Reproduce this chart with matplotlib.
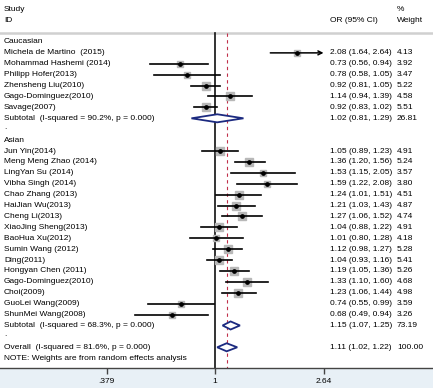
import numpy as np
import matplotlib
matplotlib.use('Agg')
import matplotlib.pyplot as plt
from matplotlib.patches import Polygon
import matplotlib.transforms as mtransforms

plt.rcParams['font.family'] = ['Liberation Sans', 'DejaVu Sans']

# Caucasian studies
cau_names = ['Michela de Martino  (2015)', 'Mohammad Hashemi (2014)', 'Philipp Hofer(2013)',
             'Zhensheng Liu(2010)', 'Gago-Dominguez(2010)', 'Savage(2007)']
cau_or = [2.08, 0.73, 0.78, 0.92, 1.14, 0.92]
cau_lo = [1.64, 0.56, 0.58, 0.81, 0.94, 0.83]
cau_hi = [2.64, 0.94, 1.05, 1.05, 1.39, 1.02]
cau_w = [4.13, 3.92, 3.47, 5.22, 4.58, 5.51]
cau_sub = (1.02, 0.81, 1.29, 26.81)
cau_sub_label = 'Subtotal  (I-squared = 90.2%, p = 0.000)'

# Asian studies
asi_names = ['Jun Yin(2014)', 'Meng Meng Zhao (2014)', 'LingYan Su (2014)', 'Vibha Singh (2014)',
             'Chao Zhang (2013)', 'HaiJian Wu(2013)', 'Cheng Li(2013)', 'XiaoJing Sheng(2013)',
             'BaoHua Xu(2012)', 'Sumin Wang (2012)', 'Ding(2011)', 'Hongyan Chen (2011)',
             'Gago-Dominguez(2010)', 'Choi(2009)', 'GuoLei Wang(2009)', 'ShunMei Wang(2008)']
asi_or = [1.05, 1.36, 1.53, 1.59, 1.24, 1.21, 1.27, 1.04, 1.01, 1.12, 1.04, 1.19, 1.33, 1.23, 0.74, 0.68]
asi_lo = [0.89, 1.20, 1.15, 1.22, 1.01, 1.03, 1.06, 0.88, 0.80, 0.98, 0.93, 1.05, 1.10, 1.06, 0.55, 0.49]
asi_hi = [1.23, 1.56, 2.05, 2.08, 1.51, 1.43, 1.52, 1.22, 1.28, 1.27, 1.16, 1.36, 1.60, 1.44, 0.99, 0.94]
asi_w = [4.91, 5.24, 3.57, 3.80, 4.51, 4.87, 4.74, 4.91, 4.18, 5.28, 5.41, 5.26, 4.68, 4.98, 3.59, 3.26]
asi_sub = (1.15, 1.07, 1.25, 73.19)
asi_sub_label = 'Subtotal  (I-squared = 68.3%, p = 0.000)'

overall = (1.11, 1.02, 1.22, 100.00)
overall_label = 'Overall  (I-squared = 81.6%, p = 0.000)'
note = 'NOTE: Weights are from random effects analysis'

xticks = [0.379, 1, 2.64]
xticklabels = ['.379', '1', '2.64']

FS = 6
navy = '#1c2a80'

fig = plt.figure(figsize=(4.33, 3.88), dpi=100)
fig.patch.set_facecolor('#e8f0f6')
ax = fig.add_axes([0, 20 / 388, 1, 368 / 388])
ax.set_facecolor('white')

# x mapping: 1 at 215px, 111.8 px per ln unit
ax.set_xscale('log')
ax.set_xlim(np.exp(-215 / 111.8), np.exp((433 - 215) / 111.8))
ax.set_ylim(29.9, -3.85)

tr = mtransforms.blended_transform_factory(ax.transAxes, ax.transData)
xl, xor_, xw = 4 / 433, 330 / 433, 397 / 433

# header
ax.text(xl, -2.94, 'Study', transform=tr, fontsize=FS, va='center')
ax.text(xl, -1.93, 'ID', transform=tr, fontsize=FS, va='center')
ax.text(xor_, -1.93, 'OR (95% CI)', transform=tr, fontsize=FS, va='center')
ax.text(xw, -2.94, '%', transform=tr, fontsize=FS, va='center')
ax.text(xw, -1.93, 'Weight', transform=tr, fontsize=FS, va='center')
ax.axhline(-0.83, color='#d0d0d0', lw=1.8)

ax.plot([1, 1], [-0.83, 29.9], color='#111111', lw=1.2)
ax.plot([overall[0]] * 2, [-0.83, 29.9], color='#c0304a', lw=0.8, ls=(0, (3, 3)))


def study_row(r, name, o, lo, hi, w):
    ax.text(xl, r, name, transform=tr, fontsize=FS, va='center')
    ax.text(xor_, r, '%.2f (%.2f, %.2f)' % (o, lo, hi), transform=tr, fontsize=FS, va='center')
    ax.text(xw, r, '%.2f' % w, transform=tr, fontsize=FS, va='center')
    side = 3.3 * np.sqrt(w) * 0.72
    ax.plot(o, r, 's', ms=side, mfc='#b8b8b8', mec='#b8b8b8', zorder=3)
    if hi >= xticks[-1]:
        ax.annotate('', xy=(xticks[-1], r), xytext=(lo, r),
                    arrowprops=dict(arrowstyle='->', lw=1.1, color='black',
                                    shrinkA=0, shrinkB=0, mutation_scale=7))
    else:
        ax.plot([lo, hi], [r, r], color='black', lw=1.2, zorder=4)
    ax.plot(o, r, 'o', ms=2.4, color='black', zorder=5)


def diamond_row(r, label, vals):
    o, lo, hi, w = vals
    ax.text(xl, r, label, transform=tr, fontsize=FS, va='center')
    ax.text(xor_, r, '%.2f (%.2f, %.2f)' % (o, lo, hi), transform=tr, fontsize=FS, va='center')
    ax.text(xw, r, '%.2f' % w, transform=tr, fontsize=FS, va='center')
    h = 0.37
    ax.add_patch(Polygon([(lo, r), (o, r - h), (hi, r), (o, r + h)], closed=True,
                         fc='white', ec=navy, lw=1.3, zorder=6))


r = 0
ax.text(xl, r, 'Caucasian', transform=tr, fontsize=FS, va='center')
r += 1
for i in range(len(cau_names)):
    study_row(r, cau_names[i], cau_or[i], cau_lo[i], cau_hi[i], cau_w[i])
    r += 1
diamond_row(r, cau_sub_label, cau_sub)
r += 1
ax.text(xl, r - 0.2, '.', transform=tr, fontsize=FS, va='center')
r += 1
ax.text(xl, r, 'Asian', transform=tr, fontsize=FS, va='center')
r += 1
for i in range(len(asi_names)):
    study_row(r, asi_names[i], asi_or[i], asi_lo[i], asi_hi[i], asi_w[i])
    r += 1
diamond_row(r, asi_sub_label, asi_sub)
r += 1
ax.text(xl, r - 0.2, '.', transform=tr, fontsize=FS, va='center')
r += 1
diamond_row(r, overall_label, overall)
r += 1
ax.text(xl, r, note, transform=tr, fontsize=FS, va='center')

for s in ['top', 'left', 'right']:
    ax.spines[s].set_visible(False)
ax.spines['bottom'].set_color('#444444')
ax.spines['bottom'].set_linewidth(1.0)
ax.set_yticks([])
ax.minorticks_off()
ax.set_xticks(xticks)
ax.set_xticklabels(xticklabels)
ax.tick_params(axis='x', which='major', direction='out', length=4, width=1,
               color='#444444', labelsize=FS, pad=3)
ax.tick_params(axis='x', which='minor', length=0)

fig.savefig('out.png', dpi=100, facecolor=fig.get_facecolor())
